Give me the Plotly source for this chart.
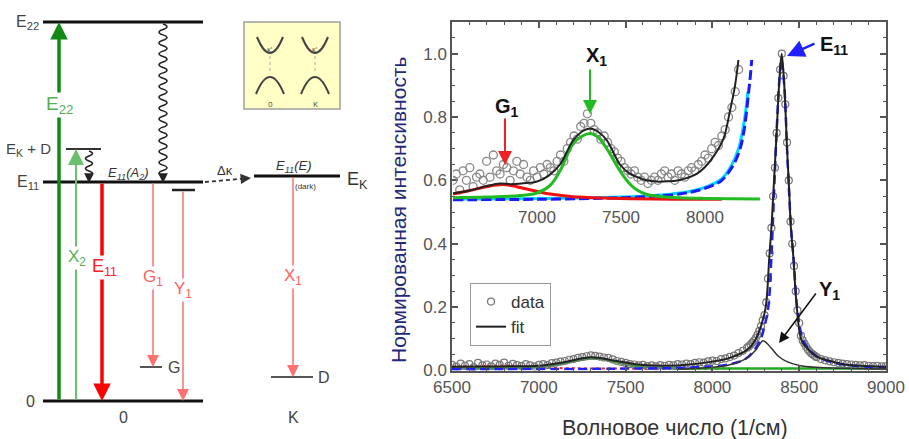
import plotly.graph_objects as go

W, H = 909, 439

# ---------------- spectrum (main panel) ----------------
main_data_x = [6500, 6525, 6550, 6575, 6600, 6625, 6650, 6675, 6700, 6725, 6750, 6775, 6800, 6825, 6850,
               6875, 6900, 6925, 6950, 6975, 7000, 7025, 7050, 7075, 7100, 7125, 7150, 7175, 7200, 7225,
               7250, 7275, 7300, 7325, 7350, 7375, 7400, 7425, 7450, 7475, 7500, 7525, 7550, 7575, 7600,
               7625, 7650, 7675, 7700, 7725, 7750, 7775, 7800, 7825, 7850, 7875, 7900, 7925, 7950, 7975,
               8000, 8025, 8050, 8075, 8100, 8125, 8150, 8175, 8200,
               8210, 8220, 8230, 8240, 8250, 8260, 8270, 8280, 8290, 8300, 8310, 8320, 8330, 8340, 8350,
               8360, 8370, 8380, 8390, 8400, 8410, 8420, 8430, 8440, 8450, 8460, 8470, 8480, 8490, 8500,
               8510, 8520, 8530, 8540, 8550, 8560, 8570, 8580, 8590, 8600,
               8625, 8650, 8675, 8700, 8725, 8750, 8775, 8800, 8825, 8850, 8875, 8900, 8925, 8950, 8975, 9000]
main_data_y = [0.018, 0.012, 0.022, 0.015, 0.020, 0.010, 0.024, 0.016, 0.019, 0.013, 0.022, 0.018, 0.025, 0.015, 0.021,
               0.017, 0.014, 0.020, 0.016, 0.012, 0.018, 0.020, 0.017, 0.023, 0.025, 0.028, 0.030, 0.034, 0.036, 0.040,
               0.042, 0.045, 0.048, 0.046, 0.044, 0.041, 0.040, 0.035, 0.030, 0.027, 0.024, 0.020, 0.019, 0.016, 0.018,
               0.014, 0.016, 0.013, 0.017, 0.015, 0.018, 0.016, 0.020, 0.019, 0.022, 0.020, 0.024, 0.026, 0.025, 0.029,
               0.031, 0.030, 0.036, 0.038, 0.043, 0.047, 0.055, 0.062, 0.072,
               0.076, 0.082, 0.088, 0.094, 0.102, 0.113, 0.125, 0.140, 0.158, 0.175, 0.215, 0.290, 0.370, 0.450, 0.550,
               0.640, 0.750, 0.860, 0.950, 1.000, 0.930, 0.840, 0.720, 0.600, 0.470, 0.400, 0.330, 0.250, 0.190, 0.150,
               0.110, 0.095, 0.085, 0.075, 0.066, 0.060, 0.054, 0.050, 0.046, 0.042,
               0.036, 0.032, 0.029, 0.026, 0.024, 0.022, 0.020, 0.019, 0.018, 0.016, 0.017, 0.015, 0.014, 0.015, 0.013, 0.014]

fit_x = [6500, 6800, 7000, 7150, 7300, 7450, 7600, 7800, 8000, 8100, 8200, 8245, 8280, 8307, 8328, 8341, 8351,
         8370, 8384, 8399, 8414, 8430, 8443, 8451, 8466, 8486, 8514, 8550, 8601, 8700, 8754, 8850, 9000]
fit_y = [0.012, 0.013, 0.015, 0.027, 0.042, 0.030, 0.017, 0.016, 0.028, 0.040, 0.065, 0.094, 0.14, 0.20, 0.36, 0.46, 0.56,
         0.75, 0.90, 1.00, 0.90, 0.70, 0.56, 0.46, 0.36, 0.20, 0.094, 0.068, 0.044, 0.027, 0.020, 0.015, 0.012]

e11_x = [6500, 7500, 7900, 8100, 8200, 8274, 8300, 8322, 8340, 8355, 8372, 8386, 8397, 8414, 8430, 8443, 8453,
         8468, 8488, 8515, 8550, 8600, 8700, 8800, 9000]
e11_y = [0.004, 0.006, 0.010, 0.020, 0.040, 0.094, 0.14, 0.20, 0.36, 0.56, 0.78, 0.92, 0.98, 0.90, 0.70, 0.55, 0.45,
         0.35, 0.20, 0.11, 0.07, 0.045, 0.025, 0.016, 0.010]

y1_x = [7800, 8000, 8100, 8200, 8250, 8275, 8291, 8310, 8340, 8380, 8430, 8500, 8600, 8750, 9000]
y1_y = [0.004, 0.010, 0.018, 0.040, 0.065, 0.085, 0.094, 0.088, 0.070, 0.045, 0.028, 0.016, 0.010, 0.007, 0.005]

x1_x = [6500, 7000, 7100, 7200, 7300, 7350, 7450, 7550, 7700, 8000, 9000]
x1_y = [0.006, 0.010, 0.018, 0.030, 0.038, 0.037, 0.026, 0.014, 0.008, 0.006, 0.006]

g1_x = [6500, 6700, 6800, 6900, 7100, 7500, 8100]
g1_y = [0.012, 0.015, 0.016, 0.013, 0.008, 0.006, 0.006]

# ---------------- spectrum (inset, y in main-panel units) ----------------
inset_data_x = [6500, 6520, 6540, 6560, 6580, 6600, 6620, 6640, 6660, 6680, 6700, 6720, 6740, 6760, 6780,
                6800, 6820, 6840, 6860, 6880, 6900, 6920, 6940, 6960, 6980, 7000, 7020, 7040, 7060, 7080,
                7100, 7120, 7140, 7160, 7180, 7200, 7220, 7240, 7260, 7280, 7300, 7320, 7340, 7360, 7380,
                7400, 7420, 7440, 7460, 7480, 7500, 7520, 7540, 7560, 7580, 7600, 7620, 7640, 7660, 7680,
                7700, 7720, 7740, 7760, 7780, 7800, 7820, 7840, 7860, 7880, 7900, 7920, 7940, 7960, 7980,
                8000, 8020, 8040, 8060, 8080, 8100, 8120, 8140, 8160, 8180, 8200]
inset_data_y = [0.60, 0.62, 0.57, 0.63, 0.60, 0.64, 0.58, 0.61, 0.62, 0.60, 0.66, 0.61, 0.68, 0.63, 0.62,
                0.65, 0.64, 0.60, 0.63, 0.66, 0.62, 0.65, 0.61, 0.60, 0.63, 0.61, 0.64, 0.62, 0.65, 0.64,
                0.63, 0.66, 0.68, 0.66, 0.70, 0.72, 0.74, 0.73, 0.77, 0.78, 0.81, 0.78, 0.76, 0.75, 0.73,
                0.74, 0.72, 0.70, 0.69, 0.67, 0.66, 0.64, 0.63, 0.62, 0.63, 0.61, 0.60, 0.61, 0.59, 0.60,
                0.61, 0.60, 0.62, 0.63, 0.61, 0.62, 0.60, 0.63, 0.62, 0.61, 0.63, 0.64, 0.63, 0.65, 0.66,
                0.68, 0.67, 0.70, 0.72, 0.71, 0.74, 0.76, 0.80, 0.83, 0.88, 0.95]

inset_fit_x = [6500, 6600, 6700, 6780, 6850, 6950, 7000, 7070, 7137, 7216, 7270, 7315, 7360, 7415, 7494, 7550,
               7593, 7650, 7712, 7780, 7851, 7950, 8000, 8049, 8109, 8149, 8179, 8199]
inset_fit_y = [0.559, 0.568, 0.582, 0.590, 0.588, 0.592, 0.596, 0.615, 0.650, 0.727, 0.755, 0.764, 0.755, 0.727,
               0.650, 0.622, 0.611, 0.600, 0.596, 0.597, 0.601, 0.620, 0.642, 0.674, 0.730, 0.820, 0.900, 0.980]

inset_x1_x = [6500, 6700, 6900, 7000, 7080, 7137, 7216, 7270, 7315, 7360, 7415, 7494, 7550, 7593, 7650, 7712,
              7850, 8000, 8327]
inset_x1_y = [0.545, 0.547, 0.552, 0.560, 0.585, 0.630, 0.716, 0.740, 0.748, 0.738, 0.700, 0.630, 0.590, 0.570,
              0.556, 0.550, 0.545, 0.543, 0.541]

inset_g1_x = [6500, 6600, 6700, 6790, 6880, 7000, 7100, 7200, 7400, 7700, 8100]
inset_g1_y = [0.557, 0.568, 0.580, 0.587, 0.580, 0.565, 0.555, 0.549, 0.544, 0.541, 0.540]

inset_e11_x = [6500, 7000, 7500, 7700, 7850, 7950, 8049, 8100, 8149, 8180, 8209, 8230, 8248, 8260, 8270, 8278]
inset_e11_y = [0.539, 0.540, 0.545, 0.550, 0.557, 0.567, 0.585, 0.600, 0.632, 0.660, 0.700, 0.750, 0.820, 0.880,
               0.930, 0.980]

inset_cyan_x = [6500, 7500, 7850, 8000, 8100, 8150, 8200, 8225, 8245, 8255]
inset_cyan_y = [0.541, 0.547, 0.560, 0.578, 0.605, 0.640, 0.700, 0.760, 0.830, 0.880]

x_ticks = [6500, 7000, 7500, 8000, 8500, 9000]
y_ticks = [0.0, 0.2, 0.4, 0.6, 0.8, 1.0]
inset_ticks = [7000, 7500, 8000]

# ---------------- energy diagram (drawn in a pixel-space overlay) ----------------
# levels: x0, x1, y, colour, width
levels = [
    (43, 203, 22, "#111", 3),     # E22
    (43, 203, 182, "#111", 3),    # E11
    (43, 203, 401, "#111", 3),    # 0
    (66, 101, 149, "#333", 2),    # EK + D
    (172, 195, 190, "#222", 2.5), # Y1 level
    (140, 162, 367, "#555", 2),   # G
    (254, 340, 176, "#111", 3),   # EK
    (271, 313, 377, "#555", 2),   # D
]
# arrows: x_tail, y_tail, x_head, y_head, colour, width
arrows = [
    (59, 401, 59, 22, "#138a13", 3.5),
    (76, 401, 76, 149, "#6cc06c", 2),
    (102, 182, 102, 401, "#ff0000", 3.5),
    (153, 182, 153, 367, "#ff7070", 1.5),
    (183, 190, 183, 401, "#ff7070", 1.5),
    (293, 176, 293, 377, "#ff7070", 1.5),
]
# labels: x, y, text, colour, size, xanchor, bg
labels = [
    (41, 22, "E<sub>22</sub>", "#444", 16, "right", None),
    (41, 182, "E<sub>11</sub>", "#444", 16, "right", None),
    (53, 149, "E<sub>K</sub> + D", "#444", 15, "right", None),
    (37, 401, "0", "#444", 16, "right", None),
    (123, 417, "0", "#444", 16, "center", None),
    (293, 417, "K", "#444", 16, "center", None),
    (166, 367, "G", "#444", 16, "left", None),
    (316, 377, "D", "#444", 16, "left", None),
    (345, 180, "E<sub>K</sub>", "#333", 18, "left", None),
    (128, 173, "<i>E<sub>11</sub>(A<sub>2</sub>)</i>", "#333", 13, "center", None),
    (293, 166, "<i>E<sub>11</sub>(E)</i>", "#333", 13, "center", None),
    (305, 186, "(dark)", "#333", 8, "center", None),
    (225, 170, "Δκ", "#333", 13, "center", None),
    (59, 105, "E<sub>22</sub>", "#55b055", 19, "center", "white"),
    (77, 258, "X<sub>2</sub>", "#55b055", 17, "center", "white"),
    (104, 267, "E<sub>11</sub>", "#ff2020", 18, "center", "white"),
    (153, 278, "G<sub>1</sub>", "#ff6060", 17, "center", "white"),
    (183, 290, "Y<sub>1</sub>", "#ff6060", 17, "center", "white"),
    (293, 277, "X<sub>1</sub>", "#ff6060", 17, "center", "white"),
]


def wave_path(x, y0, y1, amp, n):
    seg = (y1 - y0) / n
    p = f"M {x},{y0}"
    for i in range(n):
        cx = x + (2 * amp if i % 2 == 0 else -2 * amp)
        p += f" Q {cx},{y0 + seg * (i + 0.5)} {x},{y0 + seg * (i + 1)}"
    return p


fig = go.Figure()

# main panel traces
fig.add_trace(go.Scatter(x=g1_x, y=g1_y, mode="lines", line=dict(color="#ee2222", width=2, dash="dot", shape="spline"),
                         showlegend=False, xaxis="x", yaxis="y"))
fig.add_trace(go.Scatter(x=x1_x, y=x1_y, mode="lines", line=dict(color="#22aa22", width=2.5, shape="spline"),
                         showlegend=False, xaxis="x", yaxis="y"))
fig.add_trace(go.Scatter(x=main_data_x, y=main_data_y, mode="markers", name="data",
                         marker=dict(symbol="circle-open", size=7, color="#777", line=dict(width=1.2)),
                         xaxis="x", yaxis="y"))
fig.add_trace(go.Scatter(x=e11_x, y=e11_y, mode="lines", line=dict(color="#2020ff", width=2.5, dash="9px,5px", shape="spline"),
                         showlegend=False, xaxis="x", yaxis="y"))
fig.add_trace(go.Scatter(x=y1_x, y=y1_y, mode="lines", line=dict(color="#333", width=1.5, shape="spline"),
                         showlegend=False, xaxis="x", yaxis="y"))
fig.add_trace(go.Scatter(x=fit_x, y=fit_y, mode="lines", name="fit", line=dict(color="#222", width=2, shape="spline"),
                         xaxis="x", yaxis="y"))

# inset traces
fig.add_trace(go.Scatter(x=inset_data_x, y=inset_data_y, mode="markers",
                         marker=dict(symbol="circle-open", size=8, color="#888", line=dict(width=1.3)),
                         showlegend=False, xaxis="x3", yaxis="y3"))
fig.add_trace(go.Scatter(x=inset_cyan_x, y=inset_cyan_y, mode="lines", line=dict(color="#00d8ff", width=3, shape="spline"),
                         showlegend=False, xaxis="x3", yaxis="y3"))
fig.add_trace(go.Scatter(x=inset_e11_x, y=inset_e11_y, mode="lines", line=dict(color="#1a1aff", width=3, dash="10px,4px", shape="spline"),
                         showlegend=False, xaxis="x3", yaxis="y3"))
fig.add_trace(go.Scatter(x=inset_g1_x, y=inset_g1_y, mode="lines", line=dict(color="#ee1111", width=3, shape="spline"),
                         showlegend=False, xaxis="x3", yaxis="y3"))
fig.add_trace(go.Scatter(x=inset_x1_x, y=inset_x1_y, mode="lines", line=dict(color="#22bb22", width=3, shape="spline"),
                         showlegend=False, xaxis="x3", yaxis="y3"))
fig.add_trace(go.Scatter(x=inset_fit_x, y=inset_fit_y, mode="lines", line=dict(color="#222", width=2, shape="spline"),
                         showlegend=False, xaxis="x3", yaxis="y3"))

# dummy trace for the pixel overlay
fig.add_trace(go.Scatter(x=[0], y=[0], mode="markers", marker=dict(opacity=0), showlegend=False,
                         hoverinfo="skip", xaxis="x2", yaxis="y2"))

shapes = []
annotations = []
P = dict(xref="x2", yref="y2")

for x0, x1, y, c, w in levels:
    shapes.append(dict(type="line", x0=x0, x1=x1, y0=y, y1=y, line=dict(color=c, width=w), layer="above", **P))

for xt, yt, xh, yh, c, w in arrows:
    annotations.append(dict(x=xh, y=yh, ax=xt, ay=yt, axref="x2", ayref="y2", text="", showarrow=True,
                            arrowhead=2, arrowsize=1.0 if w > 2 else 1.6, arrowwidth=w, arrowcolor=c, **P))

# wavy relaxations
shapes.append(dict(type="path", path=wave_path(163, 24, 176, 4, 28), line=dict(color="#222", width=1.5), layer="above", **P))
shapes.append(dict(type="path", path=wave_path(89, 151, 176, 3.5, 5), line=dict(color="#222", width=1.5), layer="above", **P))
for xx in (163, 89):
    annotations.append(dict(x=xx, y=183, ax=xx, ay=175, axref="x2", ayref="y2", text="", showarrow=True,
                            arrowhead=2, arrowsize=1.3, arrowwidth=1.5, arrowcolor="#222", **P))

# dashed ΔK transfer
shapes.append(dict(type="line", x0=205, y0=182, x1=244, y1=178.6, line=dict(color="#333", width=1.8, dash="4px,3px"), layer="above", **P))
annotations.append(dict(x=251, y=178, ax=243, ay=178.7, axref="x2", ayref="y2", text="", showarrow=True,
                        arrowhead=2, arrowsize=1.3, arrowwidth=1.6, arrowcolor="#333", **P))

# small band-structure box
shapes.append(dict(type="rect", x0=244, y0=22, x1=340, y1=109, fillcolor="#ffffc6", line=dict(color="#a0a0a0", width=1.5), layer="above", **P))
for cx in (270, 315):
    shapes.append(dict(type="path", path=f"M {cx-13},37 Q {cx},69 {cx+13},37", line=dict(color="#444", width=2), layer="above", **P))
    shapes.append(dict(type="path", path=f"M {cx-14},94 Q {cx},60 {cx+14},94", line=dict(color="#444", width=2), layer="above", **P))
    shapes.append(dict(type="line", x0=cx, x1=cx, y0=56, y1=74, line=dict(color="#aaa", width=1, dash="dot"), layer="above", **P))
    annotations.append(dict(x=cx, y=49, text="κ'", showarrow=False, font=dict(size=7, color="#444"), **P))
annotations.append(dict(x=270, y=103, text="0", showarrow=False, font=dict(size=8, color="#444"), **P))
annotations.append(dict(x=315, y=103, text="K", showarrow=False, font=dict(size=8, color="#444"), **P))

for x, y, t, c, s, xa, bg in labels:
    a = dict(x=x, y=y, text=t, showarrow=False, xanchor=xa, yanchor="middle",
             font=dict(family="Liberation Sans, Arial", size=s, color=c), **P)
    if bg:
        a["bgcolor"] = bg
        a["borderpad"] = 0
    annotations.append(a)

# spectrum annotations (pixel overlay)
peak_labels = [
    (596, 56, "<b>X<sub>1</sub></b>"),
    (507, 107, "<b>G<sub>1</sub></b>"),
    (834, 45, "<b>E<sub>11</sub></b>"),
    (829, 290, "<b>Y<sub>1</sub></b>"),
]
for x, y, t in peak_labels:
    annotations.append(dict(x=x, y=y, text=t, showarrow=False, font=dict(family="Liberation Sans, Arial", size=20, color="#111"), **P))
peak_arrows = [
    (590, 68, 590, 114, "#22bb22", 2),
    (505, 117, 505, 165, "#ee2222", 2),
    (816, 43, 787, 56, "#2020ff", 2.5),
    (817, 292, 779, 343, "#111", 1.5),
]
for xt, yt, xh, yh, c, w in peak_arrows:
    annotations.append(dict(x=xh, y=yh, ax=xt, ay=yt, axref="x2", ayref="y2", text="", showarrow=True,
                            arrowhead=2, arrowsize=1.4, arrowwidth=w, arrowcolor=c, **P))

# axis titles
annotations.append(dict(x=398, y=210, text="Нормированная интенсивность", textangle=-90, showarrow=False,
                        font=dict(family="Liberation Sans, Arial", size=21, color="#1f2a78"), **P))
annotations.append(dict(x=675, y=428, text="Волновое число (1/см)", showarrow=False,
                        font=dict(family="Liberation Sans, Arial", size=21.5, color="#333"), **P))

frame_col = "#555"
tickfont = dict(family="Liberation Sans, Arial", size=17, color="#555")

fig.update_layout(
    width=W, height=H, margin=dict(l=0, r=0, t=0, b=0, pad=0, autoexpand=False),
    paper_bgcolor="white", plot_bgcolor="rgba(0,0,0,0)",
    shapes=shapes, annotations=annotations,
    xaxis=dict(domain=[452 / W, 886 / W], range=[6500, 9000], tickmode="array", tickvals=x_ticks,
               ticktext=[str(v) for v in x_ticks], ticks="inside", ticklen=6, tickwidth=1.5, tickcolor=frame_col,
               showline=True, linecolor=frame_col, linewidth=1.5, mirror="ticks", showgrid=False, zeroline=False,
               minor=dict(tickmode="linear", tick0=6500, dtick=100, ticks="inside", ticklen=3, tickcolor=frame_col, tickwidth=1),
               tickfont=tickfont, anchor="y", automargin=False),
    yaxis=dict(domain=[(H - 370.5) / H, (H - 22) / H], range=[0, 1.1], tickmode="array", tickvals=y_ticks,
               ticktext=[f"{v:.1f}" for v in y_ticks], ticks="inside", ticklen=6, tickwidth=1.5, tickcolor=frame_col,
               showline=True, linecolor=frame_col, linewidth=1.5, mirror="ticks", showgrid=False, zeroline=False,
               minor=dict(tickmode="linear", tick0=0, dtick=0.05, ticks="inside", ticklen=3, tickcolor=frame_col, tickwidth=1),
               tickfont=tickfont, anchor="x", automargin=False),
    xaxis3=dict(domain=[453 / W, (453 + 0.168 * 1900) / W], range=[6500, 8400], tickmode="array", tickvals=inset_ticks,
                ticktext=[str(v) for v in inset_ticks], ticks="", showline=False, showgrid=False, zeroline=False,
                tickfont=tickfont, anchor="y3", automargin=False),
    yaxis3=dict(domain=[(H - 205) / H, (H - 22) / H], range=[(370.5 - 205) / 317, 1.1], visible=False, anchor="x3",
                automargin=False),
    xaxis2=dict(domain=[0, 1], range=[0, W], visible=False, anchor="y2", fixedrange=True, automargin=False),
    yaxis2=dict(domain=[0, 1], range=[H, 0], visible=False, anchor="x2", fixedrange=True, automargin=False),
    legend=dict(x=470 / W, y=(H - 283) / H, xanchor="left", yanchor="top", bgcolor="white",
                bordercolor="#999", borderwidth=1, font=dict(family="Liberation Sans, Arial", size=17, color="#333"),
                tracegroupgap=0),
    showlegend=True,
)

fig.write_html("out.html", config={"displayModeBar": False},
               post_script="document.body.style.margin='0px';document.body.style.padding='0px';")
